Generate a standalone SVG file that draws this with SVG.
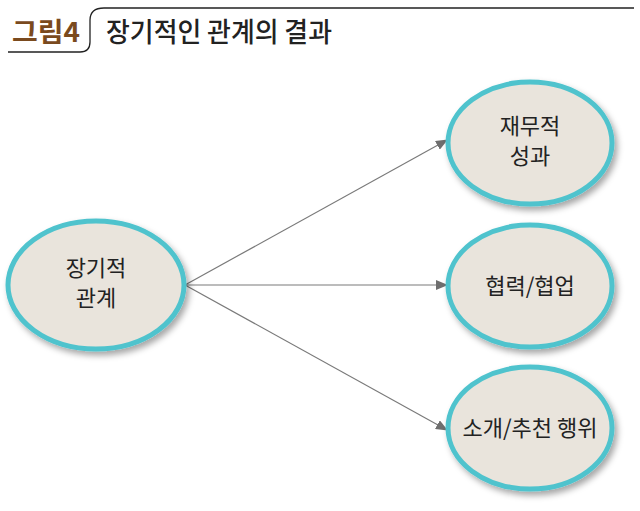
<svg xmlns="http://www.w3.org/2000/svg" width="640" height="511" viewBox="0 0 640 511">
<style>
.n{fill:#e9e4dc;stroke:#4fc3cd;stroke-width:5}
.t{font-family:"Noto Sans CJK KR","Noto Sans",sans-serif;font-size:22px;fill:#222;text-anchor:middle}
.c{stroke:#7a7a7a;stroke-width:1.2;fill:none;marker-end:url(#a)}
</style>
<defs>
<marker id="a" markerWidth="12" markerHeight="10" refX="11" refY="5" orient="auto" markerUnits="userSpaceOnUse"><path d="M0,0 L12,5 L0,10 Z" fill="#6e6e6e"/></marker>
<filter id="s" x="-20%" y="-20%" width="150%" height="150%"><feDropShadow dx="3" dy="4" stdDeviation="3" flood-color="#000" flood-opacity="0.35"/></filter>
</defs>
<rect width="640" height="511" fill="#fff"/>
<g id="header">
<path d="M8,52 H80 Q90,52 90,42 V20 Q90,8 104,8 H634" fill="none" stroke="#222" stroke-width="1.3"/>
<text x="12" y="42" font-family="'Noto Sans CJK KR',sans-serif" font-size="27" font-weight="bold" fill="#7a4a1e" textLength="68" lengthAdjust="spacingAndGlyphs">그림4</text>
<text x="106" y="42" font-family="'Noto Sans CJK KR',sans-serif" font-size="27" font-weight="500" fill="#222" textLength="226" lengthAdjust="spacingAndGlyphs">장기적인 관계의 결과</text>
</g>
<g id="connectors">
<line class="c" x1="185" y1="285" x2="447" y2="140"/>
<line class="c" x1="185" y1="285" x2="447" y2="285"/>
<line class="c" x1="185" y1="285" x2="447" y2="430"/>
</g>
<g id="n1"><ellipse class="n" filter="url(#s)" cx="96" cy="285" rx="88" ry="64"/><text class="t" x="96" y="276">장기적</text><text class="t" x="96" y="306">관계</text></g>
<g id="n2"><ellipse class="n" filter="url(#s)" cx="530" cy="143" rx="82" ry="61"/><text class="t" x="530" y="134">재무적</text><text class="t" x="530" y="164">성과</text></g>
<g id="n3"><ellipse class="n" filter="url(#s)" cx="530" cy="286" rx="82" ry="61"/><text class="t" x="530" y="294">협력/협업</text></g>
<g id="n4"><ellipse class="n" filter="url(#s)" cx="530" cy="428" rx="82" ry="61"/><text class="t" x="530" y="436">소개/추천 행위</text></g>
</svg>
